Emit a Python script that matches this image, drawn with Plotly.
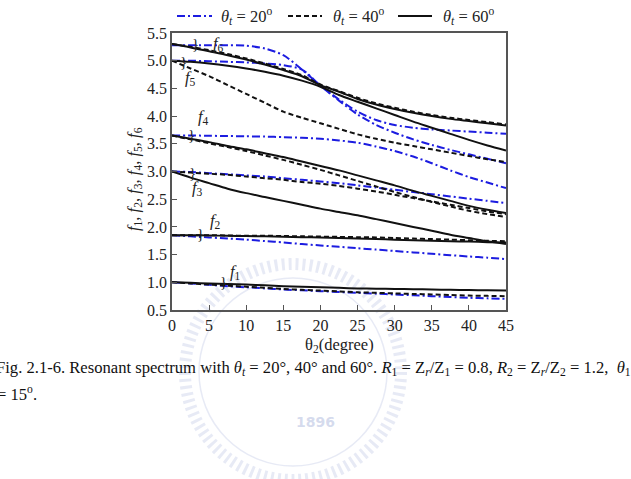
import plotly.graph_objects as go

# ---------------- data ----------------
theta2 = [0, 2.5, 5, 7.5, 10, 12.5, 15, 17.5, 20, 22.5, 25, 27.5, 30, 32.5, 35, 37.5, 40, 42.5, 45]

# theta_t = 60 deg (solid black)
f1_60 = [1.00, 0.99, 0.98, 0.97, 0.96, 0.945, 0.93, 0.92, 0.91, 0.90, 0.89, 0.885, 0.88, 0.875, 0.87, 0.865, 0.86, 0.855, 0.85]
f2_60 = [1.85, 1.85, 1.845, 1.84, 1.835, 1.83, 1.82, 1.815, 1.81, 1.80, 1.79, 1.78, 1.77, 1.76, 1.75, 1.74, 1.735, 1.725, 1.72]
f3_60 = [3.00, 2.89, 2.79, 2.69, 2.61, 2.54, 2.47, 2.40, 2.33, 2.27, 2.21, 2.14, 2.07, 2.00, 1.93, 1.86, 1.80, 1.74, 1.69]
f4_60 = [3.65, 3.59, 3.53, 3.46, 3.40, 3.33, 3.26, 3.18, 3.10, 3.02, 2.93, 2.84, 2.75, 2.65, 2.56, 2.47, 2.38, 2.31, 2.25]
f5_60 = [5.00, 4.98, 4.95, 4.91, 4.86, 4.80, 4.73, 4.64, 4.53, 4.38, 4.26, 4.14, 4.02, 3.90, 3.79, 3.68, 3.57, 3.47, 3.38]
f6_60 = [5.30, 5.24, 5.17, 5.10, 5.02, 4.93, 4.83, 4.72, 4.56, 4.44, 4.31, 4.21, 4.13, 4.06, 4.00, 3.95, 3.91, 3.87, 3.83]

# theta_t = 40 deg (dashed black)
f1_40 = [1.00, 0.98, 0.96, 0.94, 0.92, 0.90, 0.88, 0.865, 0.85, 0.835, 0.82, 0.81, 0.80, 0.79, 0.78, 0.77, 0.76, 0.755, 0.75]
f2_40 = [1.85, 1.85, 1.85, 1.845, 1.84, 1.84, 1.835, 1.83, 1.825, 1.82, 1.815, 1.81, 1.80, 1.79, 1.78, 1.77, 1.76, 1.75, 1.74]
f3_40 = [3.00, 2.98, 2.96, 2.94, 2.91, 2.88, 2.85, 2.81, 2.78, 2.74, 2.69, 2.64, 2.58, 2.52, 2.46, 2.40, 2.34, 2.28, 2.23]
f4_40 = [3.65, 3.58, 3.51, 3.44, 3.37, 3.29, 3.21, 3.12, 3.03, 2.93, 2.83, 2.73, 2.63, 2.54, 2.45, 2.37, 2.29, 2.23, 2.18]
f5_40 = [5.00, 4.86, 4.72, 4.56, 4.40, 4.24, 4.08, 3.97, 3.87, 3.77, 3.67, 3.59, 3.52, 3.46, 3.40, 3.34, 3.28, 3.22, 3.17]
f6_40 = [5.30, 5.25, 5.19, 5.12, 5.04, 4.95, 4.85, 4.74, 4.57, 4.45, 4.33, 4.23, 4.15, 4.08, 4.02, 3.97, 3.93, 3.89, 3.85]

# theta_t = 20 deg (blue dash-dot)
f1_20 = [1.00, 0.98, 0.955, 0.93, 0.91, 0.89, 0.87, 0.855, 0.84, 0.825, 0.81, 0.795, 0.78, 0.765, 0.75, 0.735, 0.72, 0.71, 0.70]
f2_20 = [1.85, 1.83, 1.81, 1.79, 1.77, 1.745, 1.72, 1.69, 1.665, 1.64, 1.615, 1.59, 1.565, 1.54, 1.515, 1.49, 1.465, 1.445, 1.42]
f3_20 = [3.00, 2.99, 2.97, 2.95, 2.93, 2.91, 2.88, 2.85, 2.82, 2.79, 2.75, 2.71, 2.67, 2.63, 2.59, 2.55, 2.51, 2.47, 2.43]
f4_20 = [3.65, 3.65, 3.645, 3.64, 3.635, 3.63, 3.62, 3.61, 3.59, 3.56, 3.52, 3.45, 3.37, 3.27, 3.15, 3.02, 2.90, 2.80, 2.70]
f5_20 = [5.00, 5.00, 4.99, 4.98, 4.97, 4.95, 4.92, 4.84, 4.55, 4.28, 4.03, 3.84, 3.70, 3.58, 3.48, 3.39, 3.31, 3.23, 3.15]
f6_20 = [5.28, 5.28, 5.28, 5.28, 5.27, 5.22, 5.10, 4.84, 4.55, 4.30, 4.08, 3.93, 3.84, 3.79, 3.76, 3.74, 3.72, 3.70, 3.68]

x_ticks = [0, 5, 10, 15, 20, 25, 30, 35, 40, 45]
y_ticks = [0.5, 1.0, 1.5, 2.0, 2.5, 3.0, 3.5, 4.0, 4.5, 5.0, 5.5]
y_tick_text = ["0.5", "1.0", "1.5", "2.0", "2.5", "3.0", "3.5", "4.0", "4.5", "5.0", "5.5"]

theta_t_values = ["20", "40", "60"]
series = [
    ("20", [f1_20, f2_20, f3_20, f4_20, f5_20, f6_20]),
    ("40", [f1_40, f2_40, f3_40, f4_40, f5_40, f6_40]),
    ("60", [f1_60, f2_60, f3_60, f4_60, f5_60, f6_60]),
]

# ---------------- layout helpers ----------------
W, H = 631, 479
L, R, T, B = 172, 506, 33, 310


def px(x):
    return (x - L) / (R - L)


def py(y):
    return (B - y) / (B - T)


FONT = "Liberation Serif"
styles = {
    "20": dict(color="#1c1ce0", width=2, dash="8px,3px,2px,3px"),
    "40": dict(color="#111111", width=2, dash="5px,3px"),
    "60": dict(color="#111111", width=2, dash="solid"),
}

fig = go.Figure()
for key, curves in series:
    for i, yv in enumerate(curves):
        fig.add_trace(go.Scatter(
            x=theta2, y=yv, mode="lines",
            line=dict(shape="spline", smoothing=0.8, **styles[key]),
            name="θt = %s" % key, showlegend=False,
        ))

annotations = []
shapes = []


def note(text, x, y, size=16.5, color="#222", xanchor="center", yanchor="middle", **kw):
    annotations.append(dict(x=x, y=y, text=text, showarrow=False, xanchor=xanchor,
                            yanchor=yanchor, font=dict(family=kw.pop("family", FONT), size=size,
                                                       color=color), **kw))


# manual legend above the plot
leg_sample_x = [(177, 212), (288, 322), (398, 432)]
leg_text_x = [219, 331, 441]
for k, key in enumerate(theta_t_values):
    x0, x1 = leg_sample_x[k]
    shapes.append(dict(type="line", xref="paper", yref="paper", x0=px(x0), x1=px(x1),
                       y0=py(16), y1=py(16), line=styles[key]))
    note("<i>θ</i><sub><i>t</i></sub> = %s<sup>o</sup>" % key, px(leg_text_x[k]), py(16),
         xanchor="left", xref="paper", yref="paper")

# mode labels and brace marks (data coordinates)
labels = [
    ("<i>f</i><sub>6</sub>", 6.3, 5.30), ("<i>f</i><sub>5</sub>", 2.5, 4.68),
    ("<i>f</i><sub>4</sub>", 4.2, 3.98), ("<i>f</i><sub>3</sub>", 3.5, 2.70),
    ("<i>f</i><sub>2</sub>", 5.8, 2.10), ("<i>f</i><sub>1</sub>", 8.5, 1.19),
]
for t, xx, yy in labels:
    note(t, xx, yy, xref="x", yref="y")
braces = [(3.2, 5.31), (1.5, 4.98), (2.6, 3.66), (2.8, 2.98), (3.9, 1.88), (6.9, 1.0)]
for xx, yy in braces:
    note("}", xx, yy, size=15, xref="x", yref="y")

# axis titles
note("<i>f</i><sub>1</sub>, <i>f</i><sub>2</sub>, <i>f</i><sub>3</sub>, "
     "<i>f</i><sub>4</sub>, <i>f</i><sub>5</sub>, <i>f</i><sub>6</sub>",
     px(134), py(179), xref="paper", yref="paper", textangle=-90)
note("θ<sub>2</sub>(degree)", px(339), py(345), xref="paper", yref="paper")

# caption
note("Fig. 2.1-6. Resonant spectrum with <i>θ</i><sub><i>t</i></sub> = 20°, 40° and 60°. "
     "<i>R</i><sub>1</sub> = Z<sub><i>r</i></sub>/Z<sub>1</sub> = 0.8, "
     "<i>R</i><sub>2</sub> = Z<sub><i>r</i></sub>/Z<sub>2</sub> = 1.2,  <i>θ</i><sub>1</sub>",
     px(-6), py(368), size=16.6, color="#111", xanchor="left", xref="paper", yref="paper")
note("= 15<sup>o</sup>.", px(-5), py(393), size=16.6, color="#111", xanchor="left",
     xref="paper", yref="paper")

# faint watermark
wm = "rgba(195,203,230,0.40)"
cx, cy, rr = 293, 372, 108
shapes += [
    dict(type="circle", xref="paper", yref="paper", layer="below",
         x0=px(cx - rr), x1=px(cx + rr), y0=py(cy + rr), y1=py(cy - rr),
         line=dict(color=wm, width=12, dash="3px,4px")),
    dict(type="circle", xref="paper", yref="paper", layer="below",
         x0=px(cx - rr + 14), x1=px(cx + rr - 14), y0=py(cy + rr - 14), y1=py(cy - rr + 14),
         line=dict(color=wm, width=1.5)),
]
note("<b>1896</b>", px(315), py(422), size=14, color="rgba(195,203,230,0.7)",
     family="DejaVu Sans", xref="paper", yref="paper")

fig.update_layout(
    width=W, height=H,
    margin=dict(l=L, r=W - R, t=T, b=H - B, pad=0),
    paper_bgcolor="white", plot_bgcolor="white",
    font=dict(family=FONT, size=16, color="#222"),
    showlegend=False,
    annotations=annotations,
    shapes=shapes,
    xaxis=dict(range=[0, 45], tickvals=x_ticks, ticks="inside", ticklen=5, tickcolor="#555",
               showline=True, linecolor="#555", linewidth=1.5, mirror=True, showgrid=False,
               zeroline=False, automargin=False, tickfont=dict(family=FONT, size=16, color="#222")),
    yaxis=dict(range=[0.5, 5.5], tickvals=y_ticks, ticktext=y_tick_text, ticks="inside", ticklen=5,
               tickcolor="#555", showline=True, linecolor="#555", linewidth=1.5, mirror=True,
               showgrid=False, zeroline=False, automargin=False,
               tickfont=dict(family=FONT, size=16, color="#222")),
)

fig.write_html("out.html")
